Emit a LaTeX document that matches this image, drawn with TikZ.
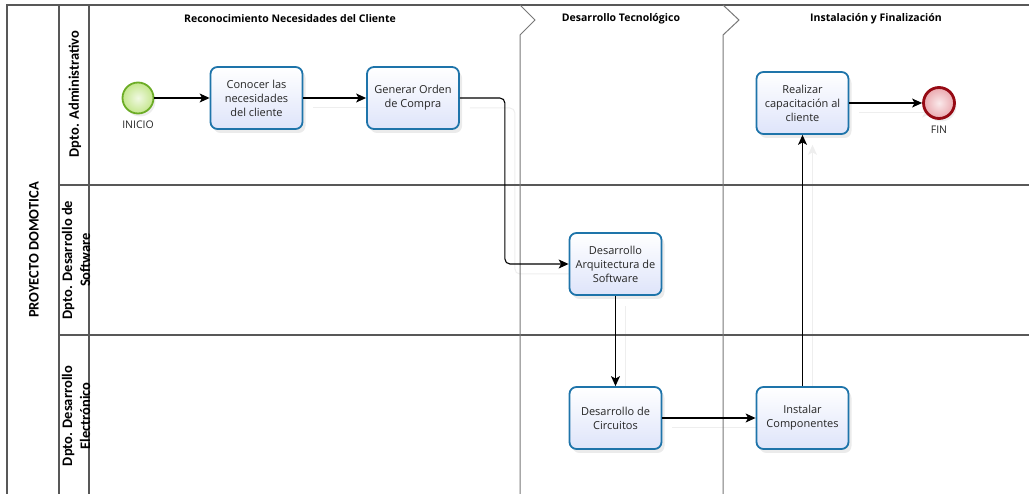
\documentclass[tikz,border=0pt]{standalone}
\usepackage{fontspec}
\setmainfont{Open Sans}
\newfontfamily\lanefont{Carlito}
\usetikzlibrary{arrows.meta,shadows}

\definecolor{taskline}{RGB}{30,116,170}
\definecolor{taskfill}{RGB}{222,228,250}
\definecolor{startline}{RGB}{108,172,38}
\definecolor{startfill}{RGB}{196,230,140}
\definecolor{endline}{RGB}{150,10,20}
\definecolor{endfill}{RGB}{234,168,174}
\definecolor{frameline}{RGB}{88,88,88}
\definecolor{phaseline}{RGB}{120,120,120}
\definecolor{flowshadow}{RGB}{238,238,238}

\pgfdeclarelayer{background}
\pgfsetlayers{background,main}

\begin{document}
\begin{tikzpicture}[x=1pt,y=-1pt,
  frame/.style={draw=frameline, line width=1.3pt},
  phase/.style={draw=phaseline, line width=1pt},
  phasetitle/.style={font=\bfseries\fontsize{10.5}{12}\selectfont, text=black},
  lanetitle/.style={rotate=90, align=center, font=\lanefont\bfseries\fontsize{14.5}{18}\selectfont, text=black},
  task/.style={draw=taskline, line width=1.8pt, rounded corners=7pt,
    minimum width=92pt, minimum height=62pt, inner sep=2pt,
    top color=white, bottom color=taskfill, align=center,
    font=\fontsize{11}{14}\selectfont, text=black!85,
    drop shadow={shadow xshift=3pt, shadow yshift=-4pt, opacity=0.16}},
  startevent/.style={circle, draw=startline, line width=1.8pt, minimum size=31pt, inner sep=0pt,
    inner color=startfill!25, outer color=startfill,
    drop shadow={shadow xshift=2pt, shadow yshift=-3pt, opacity=0.14}},
  endevent/.style={circle, draw=endline, line width=2.8pt, minimum size=31pt, inner sep=0pt,
    inner color=endfill!25, outer color=endfill,
    drop shadow={shadow xshift=2pt, shadow yshift=-3pt, opacity=0.14}},
  evlabel/.style={font=\fontsize{10.5}{12}\selectfont, text=black!85},
  flow/.style={draw=black, line width=1.1pt, rounded corners=5pt,
    -{Stealth[length=10pt,width=9pt,inset=2.5pt]}},
  flowghost/.style={draw=flowshadow, line width=1pt, rounded corners=5pt,
    -{Stealth[length=10pt,width=9pt,inset=2.5pt]}}
]
\useasboundingbox (0,0) rectangle (1029,494);

% pool and lane frame
\draw[frame] (7,494) -- (7,5) -- (1029,5);
\draw[frame] (59,5) -- (59,494);
\draw[frame] (89,5) -- (89,494);
\draw[frame] (59,185) -- (1029,185);
\draw[frame] (59,335) -- (1029,335);

% phase separators
\draw[phase] (520,5) -- (535,20) -- (520,35) -- (520,494);
\draw[phase] (723,5) -- (739,20) -- (723,35) -- (723,494);

% phase titles
\node[phasetitle] (ph1) at (290,19) {Reconocimiento Necesidades del Cliente};
\node[phasetitle] (ph2) at (621,19) {Desarrollo Tecnológico};
\node[phasetitle] (ph3) at (876,19) {Instalación y Finalización};

% pool and lane titles
\node[lanetitle] (pool) at (34,250) {PROYECTO DOMOTICA};
\node[lanetitle] (lane1) at (75,94) {Dpto. Administrativo};
\node[lanetitle] (lane2) at (76,260) {Dpto. Desarrollo de\\Software};
\node[lanetitle] (lane3) at (76,416) {Dpto. Desarrollo\\Electrónico};

% events
\node[startevent] (start) at (138,98) {};
\node[evlabel] (startlbl) at (138,125) {INICIO};
\node[endevent] (end) at (939,103) {};
\node[evlabel] (endlbl) at (939,130) {FIN};

% tasks
\node[task] (t1) at (256.5,98) {Conocer las\\necesidades\\del cliente};
\node[task] (t2) at (413,98) {Generar Orden\\de Compra};
\node[task] (t3) at (615.5,264) {Desarrollo\\Arquitectura de\\Software};
\node[task] (t4) at (615.5,418) {Desarrollo de\\Circuitos};
\node[task] (t5) at (802.5,418) {Instalar\\Componentes};
\node[task] (t6) at (802.5,103) {Realizar\\capacitación al\\cliente};

% faint offset copies of the sequence flows, behind everything
\begin{pgfonlayer}{background}
\begin{scope}[transform canvas={shift={(10pt,-10pt)}}]
\draw[flowghost] (t1) -- (t2);
\draw[flowghost] (t2.east) -- ++(45,0) |- (t3.west);
\draw[flowghost] (t3) -- (t4);
\draw[flowghost] (t4) -- (t5);
\draw[flowghost] (t5) -- (t6);
\draw[flowghost] (t6) -- (end);
\end{scope}
\end{pgfonlayer}

% sequence flows
\draw[flow] (start) -- (t1);
\draw[flow] (t1) -- (t2);
\draw[flow] (t2.east) -- ++(45,0) |- (t3.west);
\draw[flow] (t3) -- (t4);
\draw[flow] (t4) -- (t5);
\draw[flow] (t5) -- (t6);
\draw[flow] (t6) -- (end);
\end{tikzpicture}
\end{document}
